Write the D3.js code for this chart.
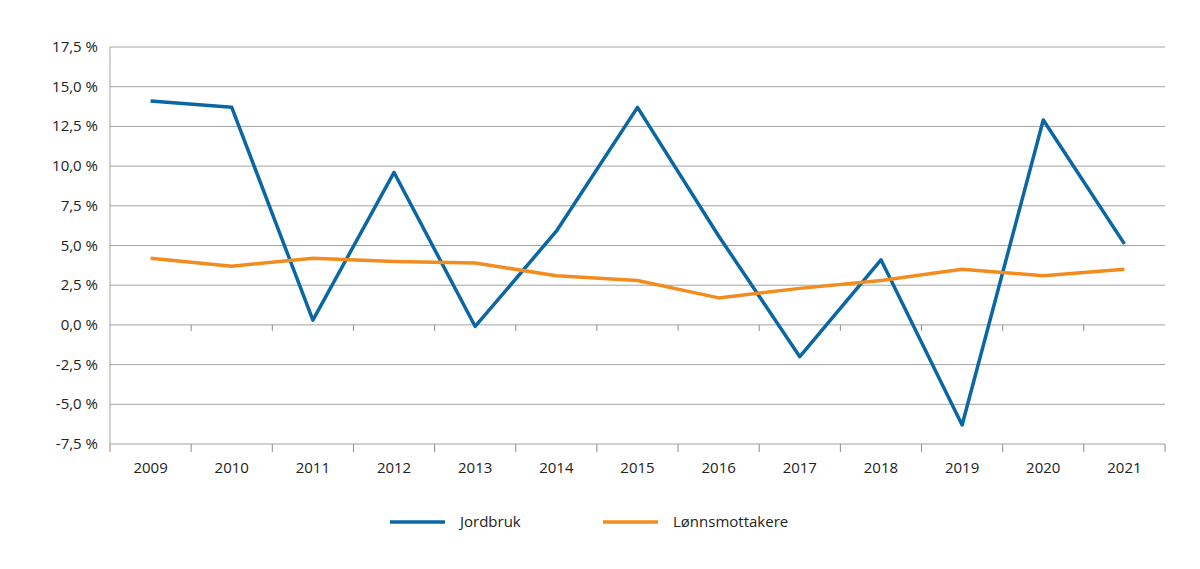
<!DOCTYPE html>
<html><head><meta charset="utf-8">
<script src="https://cdn.jsdelivr.net/npm/d3@7"></script>
<style>body{margin:0;background:#fff;font-family:"Open Sans",sans-serif}</style>
</head><body><svg id="c" width="1200" height="569"></svg>
<script>
var years = ["2009","2010","2011","2012","2013","2014","2015","2016","2017","2018","2019","2020","2021"];
var jordbruk = [14.1, 13.7, 0.3, 9.6, -0.1, 5.9, 13.7, 5.6, -2.0, 4.1, -6.3, 12.9, 5.1];
var lonn = [4.2, 3.7, 4.2, 4.0, 3.9, 3.1, 2.8, 1.7, 2.3, 2.8, 3.5, 3.1, 3.5];
var yTicks = [-7.5, -5, -2.5, 0, 2.5, 5, 7.5, 10, 12.5, 15, 17.5];

var svg = d3.select("#c");
var plotLeft = 110, plotRight = 1165, plotTop = 47, plotBottom = 444;
var x = d3.scaleBand().domain(years).range([plotLeft, plotRight]);
var y = d3.scaleLinear().domain([-7.5, 17.5]).range([plotBottom, plotTop]);
var fmt = function(v) { return d3.format(".1f")(v).replace(".", ",").replace("−", "-") + " %"; };

// grid
svg.append("g").selectAll("line").data(yTicks).join("line")
  .attr("x1", plotLeft).attr("x2", plotRight)
  .attr("y1", d => y(d)).attr("y2", d => y(d))
  .attr("stroke", "#8c8c8c").attr("stroke-width", 0.8);
svg.append("line").attr("x1", plotLeft).attr("x2", plotLeft).attr("y1", plotTop).attr("y2", plotBottom)
  .attr("stroke", "#8c8c8c").attr("stroke-width", 0.8);

svg.append("g").selectAll("text").data(yTicks).join("text")
  .attr("x", plotLeft - 12).attr("y", d => y(d) + 5)
  .attr("text-anchor", "end").attr("font-size", 15).attr("fill", "#222")
  .text(fmt);

// category ticks at zero line and bottom
var bounds = years.slice(1).map(d => x(d));
svg.append("g").selectAll("line").data(bounds).join("line")
  .attr("x1", d => d).attr("x2", d => d).attr("y1", y(0)).attr("y2", y(0) + 6)
  .attr("stroke", "#8c8c8c");
svg.append("g").selectAll("line").data([plotLeft].concat(bounds, [plotRight])).join("line")
  .attr("x1", d => d).attr("x2", d => d).attr("y1", plotBottom).attr("y2", plotBottom + 8)
  .attr("stroke", "#8c8c8c");
svg.append("g").selectAll("text").data(years).join("text")
  .attr("x", d => x(d) + x.bandwidth() / 2).attr("y", 473)
  .attr("text-anchor", "middle").attr("font-size", 15).attr("fill", "#222")
  .text(d => d);

var line = d3.line().x((d, i) => x(years[i]) + x.bandwidth() / 2).y(d => y(d));
var series = [{name: "Jordbruk", data: jordbruk, color: "#0a67a3"},
              {name: "Lønnsmottakere", data: lonn, color: "#f28c1e"}];
series.forEach(function(s) {
  svg.append("path").datum(s.data).attr("d", line)
    .attr("fill", "none").attr("stroke", s.color).attr("stroke-width", 3.5)
    .attr("stroke-linejoin", "round");
});

var lx = [390, 603];
series.forEach(function(s, i) {
  svg.append("line").attr("x1", lx[i]).attr("x2", lx[i] + 55).attr("y1", 522).attr("y2", 522)
    .attr("stroke", s.color).attr("stroke-width", 3.5);
  svg.append("text").attr("x", lx[i] + 70).attr("y", 527).attr("font-size", 15)
    .attr("fill", "#222").text(s.name);
});
</script></body></html>
